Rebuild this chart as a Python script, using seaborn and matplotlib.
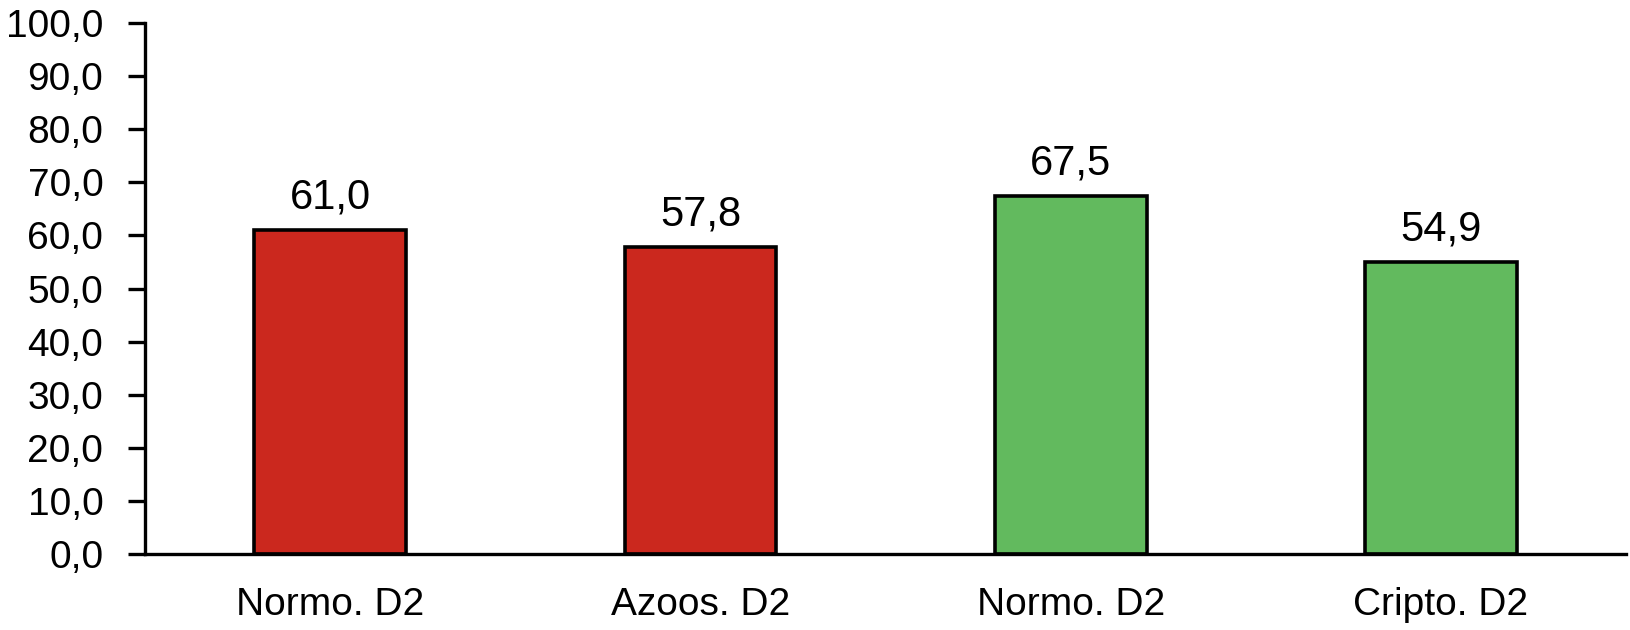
import matplotlib
matplotlib.use("Agg")
import matplotlib.pyplot as plt
import seaborn as sns
import pandas as pd
from matplotlib.ticker import FixedLocator, FuncFormatter

# values
group_ids = ["g1", "g2", "g3", "g4"]
group_labels = ["Normo. D2", "Azoos. D2", "Normo. D2", "Cripto. D2"]
values = [61.0, 57.8, 67.5, 54.9]
bar_colors = ["#CB281E", "#CB281E", "#62BA5E", "#62BA5E"]
y_ticks = [0, 10, 20, 30, 40, 50, 60, 70, 80, 90, 100]

df = pd.DataFrame({"group": group_ids, "value": values})

sns.set_style("white")
plt.rcParams["font.family"] = ["Liberation Sans", "DejaVu Sans"]

fig = plt.figure(figsize=(16.31, 6.30), dpi=100)
ax = fig.add_axes([0.0889, 0.1206, 0.9081, 0.8429])

sns.barplot(data=df, x="group", y="value", hue="group", order=group_ids,
            palette=bar_colors, width=0.41, edgecolor="black", linewidth=2.6,
            saturation=1, legend=False, ax=ax)

ax.set_xlim(-0.5, 3.5)
ax.set_ylim(0, 100)
ax.set_xlabel("")
ax.set_ylabel("")

# decimal comma labels
fmt = lambda v: f"{v:.1f}".replace(".", ",")
ax.set_yticks(y_ticks)
ax.yaxis.set_major_formatter(FuncFormatter(lambda v, p: fmt(v)))

# category labels centred, tick marks on the boundaries
ax.set_xticks(range(len(group_labels)))
ax.set_xticklabels(group_labels)
ax.xaxis.set_minor_locator(FixedLocator([-0.5, 0.5, 1.5, 2.5, 3.5]))
ax.tick_params(axis="x", which="major", length=0, pad=24, labelsize=28, labelcolor="black")
ax.tick_params(axis="x", which="minor", length=13, width=2.4, color="black")
ax.tick_params(axis="y", length=12, width=2.4, color="black", labelsize=28,
               pad=18, left=True, labelcolor="black")

for c in ax.containers:
    ax.bar_label(c, labels=[fmt(v) for v in c.datavalues], padding=9,
                 fontsize=30, color="black")

for side in ["top", "right"]:
    ax.spines[side].set_visible(False)
for side in ["left", "bottom"]:
    ax.spines[side].set_linewidth(2.4)
    ax.spines[side].set_color("black")

fig.savefig("out.png", dpi=100)
